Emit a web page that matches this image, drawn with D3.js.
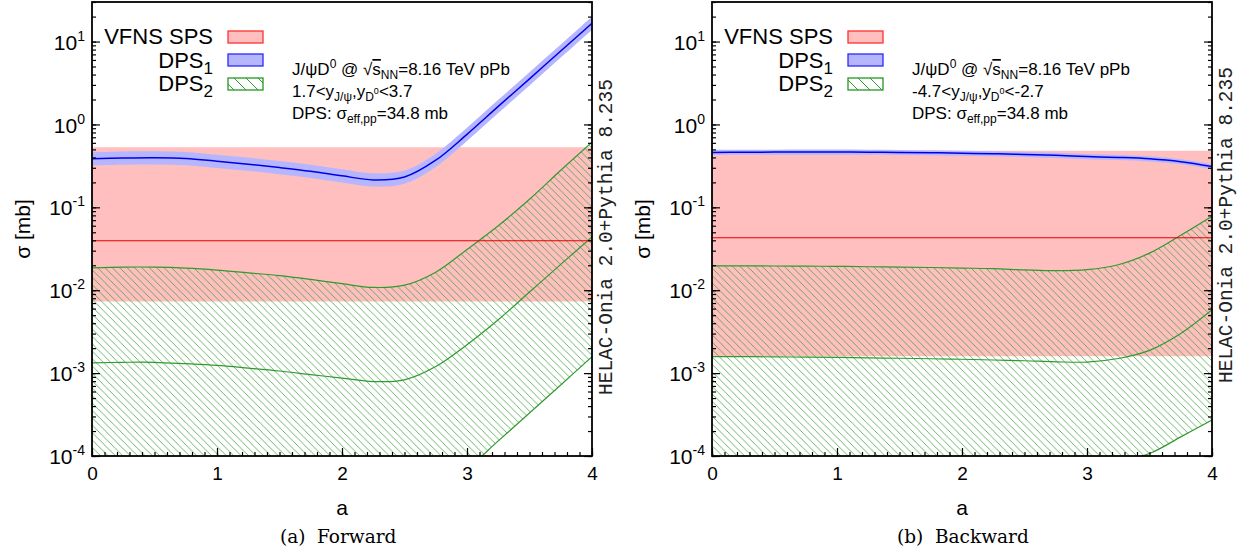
<!DOCTYPE html>
<html><head><meta charset="utf-8">
<script src="https://cdn.jsdelivr.net/npm/d3@7"></script>
<style>body{margin:0;background:#fff}svg{display:block}</style>
</head><body>
<svg id="c" width="1250" height="556"></svg>
<script>
// ---------- data ----------
const aGrid = [0,0.25,0.5,0.75,1,1.25,1.5,1.75,2,2.25,2.5,2.75,3,3.25,3.5,3.75,4];
const xTicks = [0,1,2,3,4];
const yTickExps = [-4,-3,-2,-1,0,1];
const legendLabels = ["VFNS SPS","DPS","DPS"];
const legendSubs = ["","1","2"];
const captions = [["(a)","Forward"],["(b)","Backward"]];
const rapidity = [["1.7<y","<3.7"],["-4.7<y","<-2.7"]];

// SPS band: [low, central, high] (constant in a)
const fwdSps = [0.0073, 0.0395, 0.53];
const bwdSps = [0.0016, 0.043, 0.48];

// Forward DPS1
const fwdDps1 = [0.385,0.393,0.396,0.388,0.36,0.332,0.302,0.272,0.24,0.214,0.232,0.37,0.76,1.65,3.55,7.7,16.6];
const fwdDps1Lo = [0.32,0.326,0.329,0.322,0.299,0.276,0.251,0.226,0.199,0.178,0.193,0.307,0.63,1.37,2.95,6.4,13.8];
const fwdDps1Hi = [0.462,0.472,0.475,0.466,0.432,0.398,0.362,0.326,0.288,0.257,0.278,0.444,0.91,1.98,4.26,9.2,19.9];
// Forward DPS2
const fwdDps2Hi = [0.0186,0.019,0.019,0.0185,0.0175,0.0162,0.015,0.0135,0.012,0.0108,0.0115,0.0165,0.031,0.06,0.125,0.28,0.61];
const fwdDps2 = [0.00133,0.00135,0.00135,0.0013,0.00124,0.00115,0.00106,0.00096,0.00087,0.00079,0.00083,0.0012,0.0022,0.0044,0.0095,0.0205,0.044];
const fwdDps2Lo = [4.4e-5,4.5e-5,4.5e-5,4.3e-5,4.1e-5,3.8e-5,3.5e-5,3.2e-5,2.9e-5,2.6e-5,2.8e-5,4.0e-5,7.0e-5,1.52e-4,3.3e-4,7.2e-4,1.58e-3];

// Backward DPS1
const bwdDps1 = [0.46,0.462,0.464,0.465,0.465,0.463,0.46,0.456,0.45,0.443,0.435,0.425,0.41,0.40,0.385,0.355,0.31];
const bwdDps1Lo = [0.428,0.43,0.432,0.432,0.432,0.431,0.428,0.424,0.419,0.412,0.405,0.395,0.381,0.372,0.358,0.33,0.288];
const bwdDps1Hi = [0.492,0.494,0.496,0.498,0.498,0.495,0.492,0.488,0.482,0.474,0.465,0.455,0.439,0.428,0.412,0.38,0.332];
// Backward DPS2
const bwdDps2Hi = [0.0197,0.0197,0.0196,0.0195,0.0194,0.0192,0.019,0.0188,0.0185,0.0182,0.0176,0.0172,0.0177,0.0203,0.028,0.046,0.078];
const bwdDps2 = [0.00158,0.00158,0.00157,0.00156,0.00155,0.00153,0.00151,0.00149,0.00147,0.00144,0.00141,0.00137,0.00136,0.0015,0.00188,0.003,0.0058];
const bwdDps2Lo = [9.2e-5,9.2e-5,9.1e-5,9.0e-5,8.9e-5,8.8e-5,8.7e-5,8.6e-5,8.5e-5,8.4e-5,8.2e-5,7.9e-5,7.8e-5,8.6e-5,1.07e-4,1.7e-4,2.72e-4];

// ---------- layout ----------
const PT = 2, PB = 456, PW = 500;
const panels = [
  {id:0, left:92, sps:fwdSps, d1:fwdDps1, d1lo:fwdDps1Lo, d1hi:fwdDps1Hi, d2:fwdDps2, d2lo:fwdDps2Lo, d2hi:fwdDps2Hi, helacY:395, capX:[280,317]},
  {id:1, left:712, sps:bwdSps, d1:bwdDps1, d1lo:bwdDps1Lo, d1hi:bwdDps1Hi, d2:bwdDps2, d2lo:bwdDps2Lo, d2hi:bwdDps2Hi, helacY:383, capX:[897,935]}
];
const C = {pink:"#ffbfbf", red:"#e80000", blueBand:"#b6b6ff", blue:"#0000e6", green:"#2f9a2f", hatch:"#3a9f3a"};
const SANS = "'Liberation Sans', Arial, Helvetica, sans-serif";

const svg = d3.select("#c");
svg.append("rect").attr("width",1250).attr("height",556).attr("fill","#fff");
const defs = svg.append("defs");
const pat = defs.append("pattern").attr("id","hatch").attr("patternUnits","userSpaceOnUse")
  .attr("width",7.4).attr("height",7.4);
pat.append("path").attr("d","M0,0L7.4,7.4M-1,6.4L1,8.4M6.4,-1L8.4,1")
  .attr("stroke",C.hatch).attr("stroke-width",0.75).attr("fill","none");
const patL = defs.append("pattern").attr("id","hatchL").attr("patternUnits","userSpaceOnUse")
  .attr("width",12).attr("height",12);
patL.append("path").attr("d","M0,0L12,12M-1,11L1,13M11,-1L13,1")
  .attr("stroke",C.green).attr("stroke-width",1).attr("fill","none");

const y = d3.scaleLog().domain([1e-4,30]).range([PB,PT]);

panels.forEach(p => {
  const x = d3.scaleLinear().domain([0,4]).range([p.left, p.left+PW]);
  const g = svg.append("g");
  defs.append("clipPath").attr("id","clip"+p.id).append("rect")
    .attr("x",p.left).attr("y",PT).attr("width",PW).attr("height",PB-PT);
  const plot = g.append("g").attr("clip-path",`url(#clip${p.id})`);

  const rows = aGrid.map((a,i)=>({a, c1:p.d1[i], lo1:p.d1lo[i], hi1:p.d1hi[i], c2:p.d2[i], lo2:p.d2lo[i], hi2:p.d2hi[i]}));
  const ends = [{a:0},{a:4}];
  const curve = d3.curveCatmullRom.alpha(0.5);

  // SPS band
  plot.append("path").datum(ends)
    .attr("d", d3.area().x(d=>x(d.a)).y0(y(p.sps[0])).y1(y(p.sps[2])))
    .attr("fill", C.pink);
  // DPS2 hatched band
  plot.append("path").datum(rows)
    .attr("d", d3.area().curve(curve).x(d=>x(d.a)).y0(d=>y(d.lo2)).y1(d=>y(d.hi2)))
    .attr("fill","url(#hatch)");
  ["hi2","c2","lo2"].forEach(k => {
    plot.append("path").datum(rows)
      .attr("d", d3.line().curve(curve).x(d=>x(d.a)).y(d=>y(d[k])))
      .attr("fill","none").attr("stroke",C.green).attr("stroke-width",1.2);
  });
  // SPS central
  plot.append("path").datum(ends)
    .attr("d", d3.line().x(d=>x(d.a)).y(y(p.sps[1])))
    .attr("stroke",C.red).attr("stroke-width",1.1).attr("fill","none");
  // DPS1 band + line
  plot.append("path").datum(rows)
    .attr("d", d3.area().curve(curve).x(d=>x(d.a)).y0(d=>y(d.lo1)).y1(d=>y(d.hi1)))
    .attr("fill",C.blueBand);
  plot.append("path").datum(rows)
    .attr("d", d3.line().curve(curve).x(d=>x(d.a)).y(d=>y(d.c1)))
    .attr("fill","none").attr("stroke",C.blue).attr("stroke-width",1.5);

  // axes
  const axStyle = sel => sel.attr("font-family",SANS).call(s=>s.select(".domain").remove())
    .call(s=>s.selectAll(".tick line").attr("stroke","#000").attr("stroke-width",1.2));
  const minorX = d3.range(0,41).map(i=>i/10);
  g.append("g").attr("transform",`translate(0,${PB})`)
    .call(d3.axisBottom(x).tickValues(minorX).tickSize(-4).tickFormat("")).call(axStyle);
  g.append("g").attr("transform",`translate(0,${PB})`)
    .call(d3.axisBottom(x).tickValues(xTicks).tickSize(-8).tickPadding(11).tickFormat(d3.format("d")))
    .call(axStyle).attr("font-size",19).selectAll("text").attr("fill","#000");
  const minorY = y.ticks().filter(v => v>=1e-4 && v<=30);
  [[d3.axisLeft, p.left],[d3.axisRight, p.left+PW]].forEach(([ax,pos]) => {
    g.append("g").attr("transform",`translate(${pos},0)`)
      .call(ax(y).tickValues(minorY).tickSize(-4).tickFormat("")).call(axStyle);
  });
  g.append("g").attr("transform",`translate(${p.left+PW},0)`)
    .call(d3.axisRight(y).tickValues(yTickExps.map(e=>Math.pow(10,e))).tickSize(-8).tickFormat("")).call(axStyle);
  const gyl = g.append("g").attr("transform",`translate(${p.left},0)`)
    .call(d3.axisLeft(y).tickValues(yTickExps.map(e=>Math.pow(10,e))).tickSize(-8).tickPadding(7).tickFormat(""))
    .call(axStyle);
  gyl.selectAll(".tick text").each(function(d){
    const t = d3.select(this).attr("fill","#000").attr("font-size",21).attr("dy","0.36em");
    t.append("tspan").text("10");
    t.append("tspan").attr("font-size",14).attr("dy",-9).text(String(Math.round(Math.log10(d))));
  });

  // frame
  g.append("rect").attr("x",p.left).attr("y",PT).attr("width",PW).attr("height",PB-PT)
    .attr("fill","none").attr("stroke","#000").attr("stroke-width",1.8);

  // axis titles
  g.append("text").attr("x",p.left+PW/2).attr("y",515).attr("text-anchor","middle")
    .attr("font-family",SANS).attr("font-size",21).text("a");
  g.append("text").attr("transform",`translate(${p.left-62},${(PT+PB)/2}) rotate(-90)`)
    .attr("text-anchor","middle").attr("font-family",SANS).attr("font-size",21).text("σ [mb]");

  // HELAC label
  g.append("text").attr("transform",`translate(${p.left+PW+20},${p.helacY}) rotate(-90)`)
    .attr("font-family","'Liberation Mono','Courier New',monospace").attr("font-size",19.5)
    .attr("fill","#222").text("HELAC-Onia 2.0+Pythia 8.235");

  // legend
  const lg = g.append("g").attr("font-family",SANS);
  const boxY = [31,54,78], baseY = [44,68,91];
  const fills = [C.pink, C.blueBand, "url(#hatchL)"], strokes = ["#ff3030","#2a2aff","#229922"];
  legendLabels.forEach((lab,i) => {
    const t = lg.append("text").attr("x",p.left+121).attr("y",baseY[i]).attr("text-anchor","end").attr("font-size",22);
    t.append("tspan").text(lab);
    if (legendSubs[i]) t.append("tspan").attr("font-size",17).attr("dy",6).text(legendSubs[i]);
    lg.append("rect").attr("x",p.left+136).attr("y",boxY[i]).attr("width",35).attr("height",12)
      .attr("fill",fills[i]).attr("stroke",strokes[i]).attr("stroke-width",1.3);
  });

  // annotation
  const ax0 = p.left+200, fs = 17, ss = 12;
  const l1 = g.append("text").attr("x",ax0).attr("y",75).attr("font-family",SANS).attr("font-size",fs);
  l1.append("tspan").text("J/ψD");
  l1.append("tspan").attr("font-size",ss).attr("dy",-7).text("0");
  l1.append("tspan").attr("dy",7).text(" @ √");
  l1.append("tspan").attr("text-decoration","overline").text("s");
  l1.append("tspan").attr("font-size",ss).attr("dy",4).text("NN");
  l1.append("tspan").attr("dy",-4).text("=8.16 TeV pPb");
  const l2 = g.append("text").attr("x",ax0).attr("y",97).attr("font-family",SANS).attr("font-size",fs);
  l2.append("tspan").text(rapidity[p.id][0]);
  l2.append("tspan").attr("font-size",ss).attr("dy",4).text("J/ψ");
  l2.append("tspan").attr("dy",-4).text(",y");
  l2.append("tspan").attr("font-size",ss).attr("dy",4).text("D");
  l2.append("tspan").attr("font-size",9).attr("dy",-7).text("0");
  l2.append("tspan").attr("dy",3).text(rapidity[p.id][1]);
  const l3 = g.append("text").attr("x",ax0).attr("y",119).attr("font-family",SANS).attr("font-size",fs);
  l3.append("tspan").text("DPS: σ");
  l3.append("tspan").attr("font-size",ss).attr("dy",4).text("eff,pp");
  l3.append("tspan").attr("dy",-4).text("=34.8 mb");

  // caption
  const cap = g.append("text").attr("y",543).attr("font-family","'DejaVu Serif', serif").attr("font-size",18.5);
  cap.append("tspan").attr("x",p.capX[0]).text(captions[p.id][0]);
  cap.append("tspan").attr("x",p.capX[1]).text(captions[p.id][1]);
});
</script>
</body></html>
